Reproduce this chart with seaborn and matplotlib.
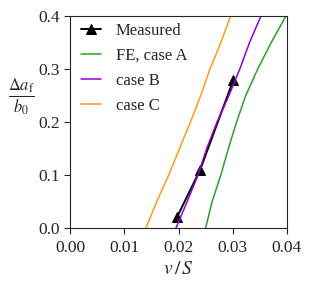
import matplotlib
matplotlib.use("Agg")
import matplotlib.pyplot as plt
import seaborn as sns

sns.set_theme(style="ticks")
plt.rcParams['font.family'] = ['Liberation Serif', 'DejaVu Serif']
plt.rcParams['mathtext.fontset'] = 'stix'

# Measured data
meas_x = [0.0197, 0.0240, 0.0301]
meas_y = [0.020, 0.110, 0.279]

# common y samples of the FE curves
fe_y = [0.0, 0.05, 0.10, 0.15, 0.20, 0.25, 0.30, 0.35, 0.40]

# FE, case A (green)
a_x = [0.0250, 0.0262, 0.0278, 0.0292, 0.0307, 0.0324, 0.0346, 0.0371, 0.0398]
# case B (purple)
b_x = [0.01954, 0.0216, 0.0236, 0.0252, 0.0271, 0.0293, 0.0313, 0.0331, 0.0352]
# case C (orange)
c_x = [0.01401, 0.0160, 0.0182, 0.0202, 0.0222, 0.0241, 0.0258, 0.0278, 0.02962]

x_ticks = [0.00, 0.01, 0.02, 0.03, 0.04]
y_ticks = [0.0, 0.1, 0.2, 0.3, 0.4]

fig = plt.figure(figsize=(3.12, 2.93), dpi=100)
ax = fig.add_axes([70/312, 1 - 228/293, 217/312, 212/293])

sns.lineplot(x=meas_x, y=meas_y, ax=ax, color='black', marker='^', markersize=7,
             markeredgecolor='black', linewidth=1.4, label='Measured', sort=False)
sns.lineplot(x=a_x, y=fe_y, ax=ax, color='#2ca02c', linewidth=1.1, label='FE, case A', sort=False)
sns.lineplot(x=b_x, y=fe_y, ax=ax, color='#9400d3', linewidth=1.1, label='case B', sort=False)
sns.lineplot(x=c_x, y=fe_y, ax=ax, color='#ff9a1a', linewidth=1.1, label='case C', sort=False)

ax.set_xlim(0, 0.04)
ax.set_ylim(0, 0.4)
ax.set_xticks(x_ticks)
ax.set_xticklabels([f"{v:.2f}" for v in x_ticks])
ax.set_yticks(y_ticks)
ax.set_yticklabels([f"{v:.1f}" for v in y_ticks])
ax.tick_params(labelsize=12.5, length=4, width=0.8)
ax.tick_params(axis='x', pad=5)
for s in ax.spines.values():
    s.set_linewidth(0.8)

ax.set_xlabel(r'$v\,/\,S$', fontsize=14, labelpad=3)
ax.set_ylabel(r'$\frac{\Delta a_{\mathrm{f}}}{b_0}$', fontsize=17, rotation=0,
              va='center', ha='center')
ax.yaxis.set_label_coords(-0.223, 0.618)

leg = ax.legend(loc='upper left', bbox_to_anchor=(-0.005, 1.024), frameon=False,
                fontsize=12, handlelength=1.2, handletextpad=0.9,
                labelspacing=0.55, borderaxespad=0.3)

fig.savefig('out.png', dpi=100)
